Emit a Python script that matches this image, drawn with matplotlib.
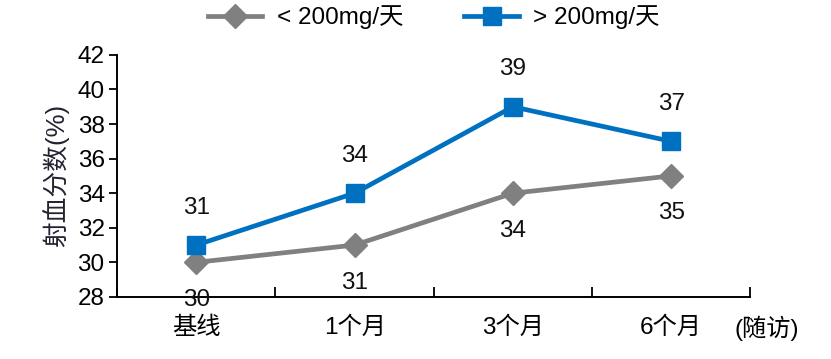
import matplotlib
matplotlib.use("Agg")
import matplotlib.pyplot as plt

plt.rcParams['font.family'] = ['Liberation Sans', 'Noto Sans CJK SC', 'DejaVu Sans']

categorias = ["基线", "1个月", "3个月", "6个月"]
bajo = [30, 31, 34, 35]
alto = [31, 34, 39, 37]
nombre_bajo = "< 200mg/天"
nombre_alto = "> 200mg/天"

gris = "#808080"
azul = "#0070C0"

fig = plt.figure(figsize=(8.31, 3.59), dpi=100)
ax = fig.add_axes([0.141, 0.173, 0.762, 0.674])

x = list(range(len(categorias)))
ax.plot(x, bajo, color=gris, lw=3.4, marker="D", ms=12, label=nombre_bajo, zorder=3)
ax.plot(x, alto, color=azul, lw=3.4, marker="s", ms=13, label=nombre_alto, zorder=3)

for i in x:
    ax.annotate(str(bajo[i]), (i, bajo[i]), xytext=(0, -27), textcoords="offset points",
                ha="center", va="center", fontsize=17.5, color="#111111",
                annotation_clip=False, zorder=5)
    ax.annotate(str(alto[i]), (i, alto[i]), xytext=(0, 27), textcoords="offset points",
                ha="center", va="center", fontsize=17.5, color="#111111",
                annotation_clip=False, zorder=5)

ax.set_xlim(-0.5, 3.5)
ax.set_ylim(28, 42)
ax.set_yticks(range(28, 43, 2))
ax.set_xticks([-0.5, 0.5, 1.5, 2.5, 3.5])
ax.set_xticklabels([])
ax.set_xticks(x, minor=True)
ax.set_xticklabels(categorias, minor=True, fontsize=17.5)
ax.tick_params(axis="x", which="major", direction="in", length=7, width=1.3)
ax.tick_params(axis="x", which="minor", length=0, pad=14)
ax.tick_params(axis="y", direction="out", length=6, width=1.3, labelsize=17.5, pad=3)

for s in ["top", "right"]:
    ax.spines[s].set_visible(False)
for s in ["left", "bottom"]:
    ax.spines[s].set_linewidth(1.4)

ax.set_ylabel("射血分数(%)", fontsize=18.5, color="#222233", labelpad=6)
fig.text(0.884, 0.085, "(随访)", fontsize=17.5, ha="left", va="center")

ax.legend(loc="center", bbox_to_anchor=(0.5, 1.155), ncol=2, frameon=False,
          fontsize=17.5, handlelength=2.25, handletextpad=0.6, columnspacing=2.5,
          borderaxespad=0)

fig.savefig("out.png", dpi=100)
